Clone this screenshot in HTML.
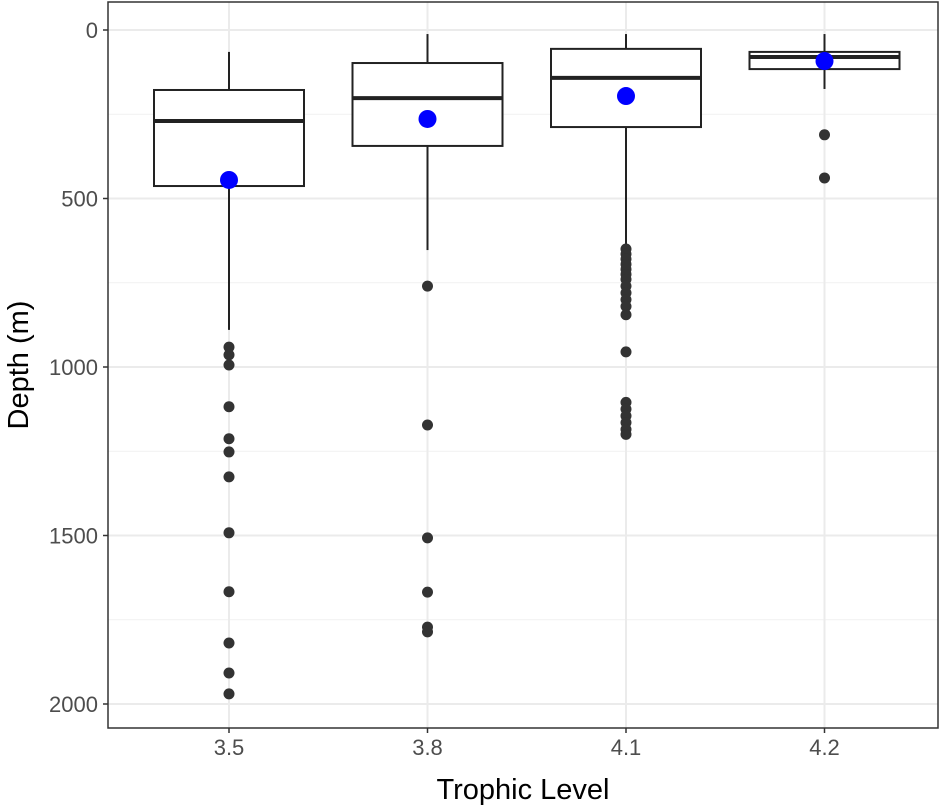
<!DOCTYPE html>
<html><head><meta charset="utf-8"><style>
body{margin:0;background:#fff}
svg text{font-family:"Liberation Sans",Arial,sans-serif}
</style></head><body>
<svg id="chart" width="945" height="806"></svg>
<script>
const categories=["3.5","3.8","4.1","4.2"];
const q1=[178,98,56,65];
const medians=[270,202,142,80];
const q3=[463,344,288,116];
const whiskLow=[65,12,12,12];
const whiskHigh=[890,653,635,175];
const means=[445,264,196,92];
const outliers=[
[941,964,994,1118,1213,1252,1326,1492,1667,1819,1908,1970],
[760,1172,1507,1668,1772,1786],
[650,665,680,695,710,725,740,760,780,800,820,845,955,1105,1125,1145,1165,1185,1200],
[311,439]];
const yTicks=[0,500,1000,1500,2000];

const NS="http://www.w3.org/2000/svg";
const svg=document.getElementById('chart');
const L=108,R=938,T=2,B=728;
const y=v=>30+v*0.337;
const x=i=>229+i*198.5;
function mk(t,a,p){const e=document.createElementNS(NS,t);for(const k in a)e.setAttribute(k,a[k]);(p||svg).appendChild(e);return e;}
for(let i=0;i<yTicks.length-1;i++){const g=mk('line',{x1:L,x2:R,y1:y((yTicks[i]+yTicks[i+1])/2),y2:y((yTicks[i]+yTicks[i+1])/2),stroke:'#f1f1f1','stroke-width':1});
}
yTicks.forEach(t=>{const g=mk('line',{x1:L,x2:R,y1:y(t),y2:y(t),stroke:'#ebebeb','stroke-width':2});

mk('line',{x1:L-5,x2:L,y1:y(t),y2:y(t),stroke:'#333','stroke-width':1.5});
const tx=mk('text',{x:L-10,y:y(t)+8,'text-anchor':'end','font-size':22,fill:'#4d4d4d'});tx.textContent=t;
});
categories.forEach((c,i)=>{const g=mk('line',{x1:x(i),x2:x(i),y1:T,y2:B,stroke:'#ebebeb','stroke-width':2});

mk('line',{x1:x(i),x2:x(i),y1:B,y2:B+5,stroke:'#333','stroke-width':1.5});
const tx=mk('text',{x:x(i),y:B+27,'text-anchor':'middle','font-size':22,fill:'#4d4d4d'});tx.textContent=c;
});
categories.forEach((c,i)=>{
const g=mk('g',{});
mk('line',{x1:x(i),x2:x(i),y1:y(whiskLow[i]),y2:y(q1[i]),stroke:'#222','stroke-width':2},g);
mk('line',{x1:x(i),x2:x(i),y1:y(q3[i]),y2:y(whiskHigh[i]),stroke:'#222','stroke-width':2},g);
mk('rect',{x:x(i)-75,y:y(q1[i]),width:150,height:y(q3[i])-y(q1[i]),fill:'#fff',stroke:'#222','stroke-width':2},g);
mk('line',{x1:x(i)-75,x2:x(i)+75,y1:y(medians[i]),y2:y(medians[i]),stroke:'#222','stroke-width':4},g);
outliers[i].forEach(v=>{const o=mk('circle',{cx:x(i),cy:y(v),r:5.5,fill:'#333'},g);
});
const m=mk('circle',{cx:x(i),cy:y(means[i]),r:9,fill:'#0000ff'},g);

});
const fr=mk('rect',{x:L,y:T,width:R-L,height:B-T,fill:'none',stroke:'#333','stroke-width':1.5});

const xt=mk('text',{x:(L+R)/2,y:799,'text-anchor':'middle','font-size':29,fill:'#000'});xt.textContent='Trophic Level';

const yt=mk('text',{x:0,y:0,'text-anchor':'middle','font-size':29,fill:'#000',transform:'translate(28,365) rotate(-90)'});yt.textContent='Depth (m)';

</script>
</body></html>
